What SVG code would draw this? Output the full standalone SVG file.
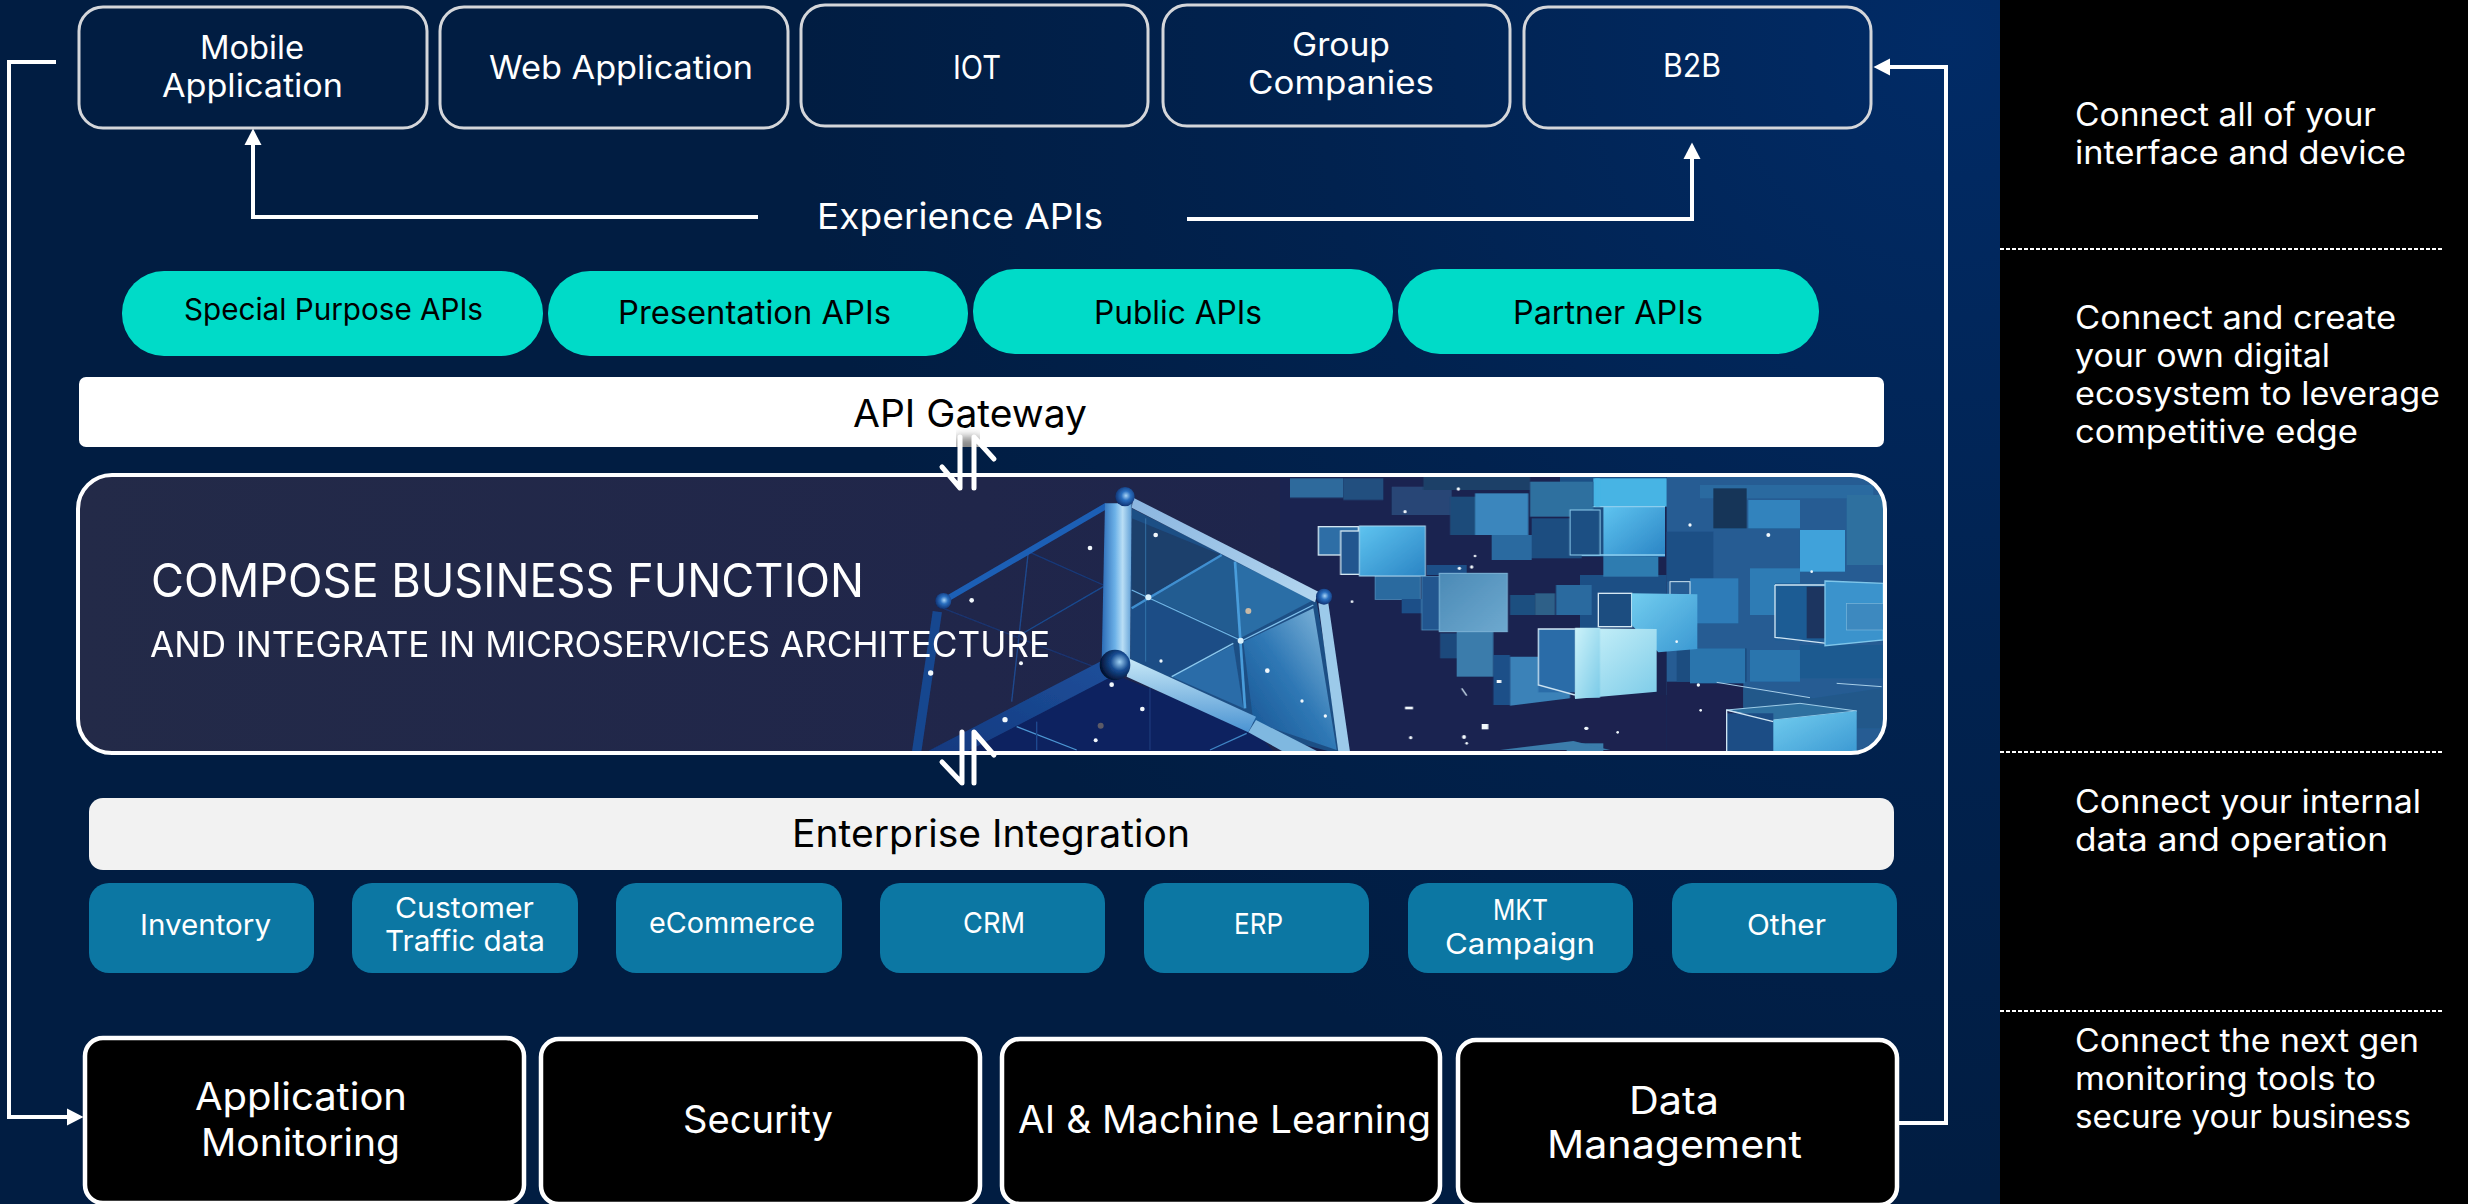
<svg xmlns="http://www.w3.org/2000/svg" width="2468" height="1204" viewBox="0 0 2468 1204">
<style>
text{font-family:"Inter","Liberation Sans",sans-serif;font-weight:400;transform:translateY(1px)}
.w{fill:#fff}.k{fill:#000}
.s28{font-size:29px}.s30{font-size:30px}.s32{font-size:32px}.s36{font-size:36px}.s38{font-size:38px}.s47{font-size:47px}
.top{fill:none;stroke:#d4d6da;stroke-width:3}
.pill{fill:#00dbc8}
.src{fill:#0c77a3}
.blk{fill:#000;stroke:#fff;stroke-width:4.5}
.conn{fill:none;stroke:#fff;stroke-width:4}
.dash{fill:none;stroke:#fff;stroke-width:2;stroke-dasharray:4 2}
.thin{fill:none;stroke-width:4}
.out{fill:none;stroke:#cfe6f4;stroke-width:4}
.dot{fill:#f2f8fc}
.ar{fill:none;stroke:#fff;stroke-width:5;stroke-linecap:round;stroke-linejoin:round}
</style>
<defs>
<radialGradient id="bg" gradientUnits="userSpaceOnUse" cx="1950" cy="40" r="1150"><stop offset="0" stop-color="#012b66"/><stop offset=".55" stop-color="#01224f"/><stop offset="1" stop-color="#011d42"/></radialGradient>
<linearGradient id="panel" x1="0" x2="1" y1="0" y2="0"><stop offset="0" stop-color="#232a48"/><stop offset=".5" stop-color="#20264a"/><stop offset="1" stop-color="#1a2350"/></linearGradient>
<linearGradient id="pil" x1="0" x2="1" y1="0" y2="0"><stop offset="0" stop-color="#2a6ab5"/><stop offset=".45" stop-color="#6db2e8"/><stop offset=".7" stop-color="#b9def5"/><stop offset="1" stop-color="#5f9fd6"/></linearGradient>
<linearGradient id="beam" x1="0" x2="1" y1="0" y2="1"><stop offset="0" stop-color="#8ab5e0"/><stop offset="1" stop-color="#b3d6ef"/></linearGradient>
<linearGradient id="beam2" x1="0" x2="0" y1="0" y2="1"><stop offset="0" stop-color="#c7e8f7"/><stop offset="1" stop-color="#4a93d2"/></linearGradient>
<linearGradient id="beamL" x1="1" x2="0" y1="0" y2="1"><stop offset="0" stop-color="#1e4f9a"/><stop offset="1" stop-color="#12397f"/></linearGradient>
<linearGradient id="pane" x1="1" x2="0" y1="0" y2="1"><stop offset="0" stop-color="#8dbfe0"/><stop offset=".5" stop-color="#2f78b5"/><stop offset="1" stop-color="#14508f"/></linearGradient>
<linearGradient id="cb" x1="0" x2="1" y1="0" y2="1"><stop offset="0" stop-color="#5fc4f0"/><stop offset="1" stop-color="#2a84c4"/></linearGradient>
<linearGradient id="cm" x1="0" x2="1" y1="0" y2="1"><stop offset="0" stop-color="#4b8ab6"/><stop offset="1" stop-color="#6ea9cf"/></linearGradient>
<linearGradient id="pale" x1="0" x2="1" y1="0" y2="1"><stop offset="0" stop-color="#cdf3fa"/><stop offset="1" stop-color="#7ccbe8"/></linearGradient>
<linearGradient id="sky" x1="0" x2="1" y1="0" y2="1"><stop offset="0" stop-color="#72cdef"/><stop offset="1" stop-color="#3b98d2"/></linearGradient>
<radialGradient id="nd" cx=".55" cy=".45" r=".6"><stop offset="0" stop-color="#a8d4f5"/><stop offset=".4" stop-color="#2a6fc0"/><stop offset="1" stop-color="#0b2a68"/></radialGradient>
<radialGradient id="nd2" cx=".65" cy=".4" r=".65"><stop offset="0" stop-color="#9fd0f2"/><stop offset=".45" stop-color="#154a90"/><stop offset="1" stop-color="#03102f"/></radialGradient>
<clipPath id="pc"><rect x="78" y="475" width="1807" height="278" rx="34"/></clipPath>
<clipPath id="gw"><rect x="930" y="420" width="80" height="27"/></clipPath>
<filter id="bl" x="-50%" y="-50%" width="200%" height="200%"><feGaussianBlur stdDeviation="5"/></filter>
<filter id="sf" x="-2%" y="-2%" width="104%" height="104%"><feGaussianBlur stdDeviation="1.6"/></filter>
<marker id="ah" markerUnits="userSpaceOnUse" markerWidth="18" markerHeight="18" refX="1" refY="9" orient="auto"><path d="M0 0.5L16.5 9L0 17.5z" fill="#fff"/></marker>
</defs>

<rect width="2468" height="1204" fill="url(#bg)"/>
<rect x="2000" width="468" height="1204" fill="#000"/>

<g id="node-mobile"><rect class="top" x="79" y="7" width="348" height="121" rx="24"/>
<text class="w s32" x="200" y="58" textLength="104" lengthAdjust="spacingAndGlyphs">Mobile</text>
<text class="w s32" x="162" y="96" textLength="181" lengthAdjust="spacingAndGlyphs">Application</text></g>
<g id="node-web"><rect class="top" x="440" y="7" width="348" height="121" rx="24"/>
<text class="w s32" x="489" y="78" textLength="264" lengthAdjust="spacingAndGlyphs">Web Application</text></g>
<g id="node-iot"><rect class="top" x="801" y="5" width="347" height="121" rx="24"/>
<text class="w s32" x="953" y="78" textLength="48" lengthAdjust="spacingAndGlyphs">IOT</text></g>
<g id="node-group"><rect class="top" x="1163" y="5" width="347" height="121" rx="24"/>
<text class="w s32" x="1292" y="55" textLength="98" lengthAdjust="spacingAndGlyphs">Group</text>
<text class="w s32" x="1248" y="93" textLength="186" lengthAdjust="spacingAndGlyphs">Companies</text></g>
<g id="node-b2b"><rect class="top" x="1524" y="7" width="347" height="121" rx="24"/>
<text class="w s32" x="1663" y="76" textLength="58" lengthAdjust="spacingAndGlyphs">B2B</text></g>

<g id="node-experience"><text class="w s36" x="817" y="228" textLength="286" lengthAdjust="spacingAndGlyphs">Experience APIs</text></g>

<g id="node-special"><rect class="pill" x="122" y="271" width="421" height="85" rx="42"/>
<text class="k s30" x="184" y="319" textLength="299" lengthAdjust="spacingAndGlyphs">Special Purpose APIs</text></g>
<g id="node-presentation"><rect class="pill" x="548" y="271" width="420" height="85" rx="42"/>
<text class="k s32" x="618" y="323" textLength="273" lengthAdjust="spacingAndGlyphs">Presentation APIs</text></g>
<g id="node-public"><rect class="pill" x="973" y="269" width="420" height="85" rx="42"/>
<text class="k s32" x="1094" y="323" textLength="168" lengthAdjust="spacingAndGlyphs">Public APIs</text></g>
<g id="node-partner"><rect class="pill" x="1398" y="269" width="421" height="85" rx="42"/>
<text class="k s32" x="1513" y="323" textLength="190" lengthAdjust="spacingAndGlyphs">Partner APIs</text></g>

<g id="node-gateway"><rect x="79" y="377" width="1805" height="70" rx="7" fill="#fff"/>
<text class="k s38" x="853" y="426" textLength="234" lengthAdjust="spacingAndGlyphs">API Gateway</text></g>

<g id="node-compose">
<rect x="78" y="475" width="1807" height="278" rx="34" fill="url(#panel)"/>
<g clip-path="url(#pc)">
<rect x="1280" y="475" width="605" height="278" fill="#1a2350"/>
<g transform="translate(1580 475) scale(.33333)" filter="url(#sf)">
<rect x="260" y="0" width="660" height="840" fill="#255c93"/>
<rect x="-60" y="0" width="320" height="90" fill="#1f4f85"/>
<rect x="260" y="620" width="230" height="220" fill="#1a2350"/>
<rect x="0" y="660" width="260" height="180" fill="#1a2350"/>
<rect x="0" y="300" width="260" height="160" fill="#1f4f85"/>
<rect x="290" y="520" width="210" height="100" fill="#1d4d80"/>
<rect x="360" y="30" width="520" height="40" fill="#2a6aa0"/>
<rect x="400" y="40" width="100" height="120" fill="#163659"/>
<rect x="505" y="75" width="155" height="85" fill="#3283bd"/>
<rect x="260" y="170" width="140" height="150" fill="#1f4f85"/>
<rect x="800" y="60" width="110" height="210" fill="#2f6f9f"/>
<rect x="660" y="165" width="135" height="125" fill="#3fa2da"/>
<rect x="510" y="280" width="150" height="140" fill="#2d7cb5"/>
<rect x="330" y="310" width="145" height="135" fill="#2f7cb8"/>
<rect x="270" y="320" width="60" height="40" class="out" style="stroke-width:3"/>
<rect x="330" y="520" width="165" height="105" fill="#2a74ad"/>
<rect x="510" y="525" width="150" height="95" fill="#2a74ad"/>
<rect x="660" y="510" width="250" height="100" fill="#1e5a90"/>
<polygon points="490,640 700,670 905,640 905,760 830,760 830,705 490,705" fill="#24598a"/>
<path d="M410 622L690 668M770 625L905 635" stroke="#a9cfe8" stroke-width="3" fill="none"/>
<rect x="585" y="325" width="155" height="172" fill="#1f5c94"/>
<rect x="680" y="335" width="60" height="155" fill="#1a3560"/>
<path d="M585 330H740M585 330V487L740 505" class="out"/>
<polygon points="735,318 910,325 910,495 735,512" fill="#3a93cc" stroke="#7fc6ea" stroke-width="4"/>
<rect x="800" y="385" width="110" height="80" fill="#3e89bf" stroke="#7db8dc" stroke-width="2"/>
<rect x="55" y="355" width="100" height="100" fill="#1e4d80" stroke="#d6e8f2" stroke-width="4"/>
<polygon points="155,355 352,358 352,522 235,532 155,450" fill="url(#sky)"/>
<rect x="40" y="10" width="220" height="85" fill="#47b4e4"/>
<rect x="-30" y="95" width="100" height="150" fill="#1d5083"/>
<rect x="70" y="95" width="185" height="150" fill="url(#cb)"/>
<path d="M-30 95H255M-30 240H255" stroke="#8ccdee" stroke-width="4" fill="none"/>
<rect x="70" y="245" width="165" height="60" fill="#2f7cb0"/>
<polygon points="-15,460 230,462 230,650 -15,672" fill="url(#pale)"/>
<polygon points="440,705 660,685 830,708 580,735" fill="#2f6f9f" stroke="#9ecde8" stroke-width="3"/>
<rect x="440" y="715" width="140" height="125" fill="#1e4d85"/>
<path d="M440 840V705L580 740" class="out"/>
<polygon points="580,735 830,708 830,840 580,840" fill="url(#sky)"/>
<rect x="-40" y="805" width="110" height="35" fill="#3a7cab"/>
<circle class="dot" cx="18" cy="760" r="5"/><circle class="dot" cx="113" cy="772" r="4"/><circle class="dot" cx="362" cy="706" r="4"/><circle class="dot" cx="355" cy="630" r="5"/><circle class="dot" cx="565" cy="180" r="6"/><circle class="dot" cx="330" cy="150" r="5"/><circle class="dot" cx="695" cy="290" r="4"/><circle class="dot" cx="290" cy="500" r="4"/>
</g>
<g transform="translate(1280 475) scale(.33333)" filter="url(#sf)">
<rect x="30" y="10" width="160" height="58" fill="#2f6a9c"/><rect x="190" y="10" width="120" height="65" fill="#224f7f"/>
<rect x="335" y="35" width="180" height="85" fill="#2a4f80" opacity=".8"/>
<rect x="430" y="0" width="320" height="45" fill="#1f4168"/>
<rect x="510" y="65" width="80" height="115" fill="#1f4c7a"/>
<rect x="585" y="55" width="160" height="125" fill="#3a86bd"/>
<rect x="635" y="180" width="120" height="75" fill="#2c6aa0"/>
<rect x="750" y="20" width="190" height="105" fill="#2f6f9f"/>
<rect x="755" y="130" width="150" height="120" fill="#1e4d80"/>
<rect x="870" y="105" width="90" height="135" fill="#1d5083" stroke="#8ccdee" stroke-width="3"/>
<rect x="945" y="10" width="15" height="85" fill="#47b4e4"/>
<rect x="285" y="305" width="135" height="68" fill="#2a6a9f" stroke="#5b9bc8" stroke-width="2"/>
<rect x="365" y="372" width="65" height="43" fill="#1f5088"/>
<rect x="440" y="270" width="120" height="30" fill="#1f5088"/>
<rect x="115" y="155" width="120" height="85" fill="#2f6ea6" stroke="#d3e6f1" stroke-width="4"/>
<rect x="182" y="168" width="60" height="130" fill="#22578f" stroke="#d3e6f1" stroke-width="4"/>
<rect x="238" y="153" width="198" height="150" fill="url(#cb)" stroke="#a9d5ee" stroke-width="3"/>
<rect x="425" y="305" width="55" height="160" fill="#22578f" stroke="#5b9bc8" stroke-width="2"/>
<rect x="530" y="470" width="110" height="135" fill="#3a7cab"/>
<rect x="480" y="475" width="50" height="75" fill="#1e4a7c"/>
<rect x="478" y="295" width="204" height="175" fill="url(#cm)" stroke="#7fb8da" stroke-width="3"/>
<rect x="690" y="360" width="75" height="60" fill="#1e4f80"/><rect x="765" y="355" width="60" height="65" fill="#2d6088"/>
<rect x="828" y="330" width="107" height="90" fill="#2a6a9f"/>
<rect x="640" y="540" width="50" height="150" fill="#1e4f88"/>
<polygon points="690,545 870,545 870,670 690,692" fill="#3a82b8"/>
<rect x="775" y="462" width="110" height="190" fill="#2b6ca8"/>
<path d="M885 462H775V630L885 660" class="out"/>
<polygon points="885,458 960,458 960,668 885,668" fill="url(#pale)"/>
<polygon points="660,825 880,798 990,825" fill="#3a7cab"/>
<rect x="650" y="615" width="14" height="9" fill="#f2f8fc"/><rect x="375" y="695" width="24" height="8" fill="#f2f8fc"/><rect x="605" y="747" width="20" height="16" fill="#f2f8fc"/>
<circle class="dot" cx="392" cy="788" r="5"/><circle class="dot" cx="552" cy="786" r="6"/><circle class="dot" cx="560" cy="805" r="4"/><circle class="dot" cx="920" cy="760" r="5"/><circle class="dot" cx="585" cy="243" r="4"/><circle class="dot" cx="575" cy="276" r="5"/><circle class="dot" cx="538" cy="280" r="5"/><circle class="dot" cx="216" cy="380" r="4"/><circle class="dot" cx="535" cy="42" r="5"/><circle class="dot" cx="375" cy="110" r="5"/>
<path d="M545 640L560 662" stroke="#d5e8f3" stroke-width="4"/>
</g>
<g transform="translate(900 475) scale(.33333)" filter="url(#sf)">
<polygon points="645,600 60,840 1130,840 1060,760" fill="#0e2360"/>
<polygon points="695,100 1250,380 1330,840 1060,770 690,580" fill="#1f4f85"/>
<polygon points="695,130 965,240 745,365 695,395" fill="#1c3f6c"/>
<polygon points="965,240 1005,260 1020,490 745,365" fill="#235b91"/>
<polygon points="1005,260 1240,375 1020,490" fill="#2b6ea6"/>
<polygon points="695,400 745,375 1000,495 815,605 695,550" fill="#1c4e86"/>
<polygon points="815,605 1000,510 1030,700" fill="#2a6ca8"/>
<polygon points="1030,500 1240,400 1310,825 1060,740" fill="url(#pane)"/>
<g class="thin">
<path d="M695 345L1020 495" stroke="#6fb6e6"/><path d="M695 400L965 240" stroke="#3f8fd0" stroke-width="7"/><path d="M1005 260L1035 700" stroke="#4a9ddb" stroke-width="8"/><path d="M1240 390L1030 495" stroke="#7fc0ec"/><path d="M815 605L1000 505" stroke="#8bc8ee"/><path d="M737 130V560" stroke="#3f85bd" stroke-width="2"/>
<path d="M385 230L335 680" stroke="#1e4a8f"/><path d="M385 230L610 330" stroke="#17397a"/><path d="M360 480L610 335" stroke="#1a4a90"/><path d="M130 400L360 490L620 590" stroke="#1a3470"/>
<path d="M350 755L530 825" stroke="#4d97d4"/><path d="M930 825L1040 775" stroke="#3f85c5"/><path d="M410 740V825" stroke="#1e4a8f"/><path d="M750 630V825" stroke="#1e4a8f" stroke-width="2"/>
</g>
<path d="M130 378L620 92" stroke="#1d5fb5" stroke-width="18" fill="none"/>
<path d="M112 410L50 830" stroke="#17468f" stroke-width="28" fill="none"/>
<polygon points="615,85 695,85 690,560 605,560" fill="url(#pil)"/>
<polygon points="700,68 1255,350 1245,382 695,98" fill="url(#beam)"/>
<polygon points="1255,385 1285,385 1350,830 1315,830" fill="#9ccaea"/>
<polygon points="690,552 1068,725 1045,772 680,605" fill="url(#beam2)"/>
<polygon points="1068,735 1255,830 1150,830 1045,772" fill="#7fb8e0"/>
<polygon points="600,560 625,610 200,830 80,830" fill="url(#beamL)"/>
<circle cx="675" cy="65" r="29" fill="url(#nd)"/><circle cx="130" cy="378" r="24" fill="url(#nd)"/><circle cx="1272" cy="365" r="24" fill="url(#nd)"/><circle cx="645" cy="570" r="46" fill="url(#nd2)"/><circle cx="745" cy="367" r="9" fill="#d9f0fb"/><circle cx="1022" cy="497" r="9" fill="#d9f0fb"/>
<circle class="dot" cx="767" cy="180" r="7"/><circle class="dot" cx="570" cy="219" r="7"/><circle class="dot" cx="215" cy="376" r="7"/><circle class="dot" cx="92" cy="594" r="8"/><circle class="dot" cx="363" cy="565" r="6"/><circle class="dot" cx="635" cy="629" r="7"/><circle class="dot" cx="727" cy="702" r="7"/><circle class="dot" cx="315" cy="734" r="8"/><circle class="dot" cx="587" cy="796" r="6"/><circle cx="1045" cy="408" r="9" fill="#c9b9a4"/><circle class="dot" cx="1102" cy="587" r="7"/><circle class="dot" cx="1206" cy="678" r="5"/><circle class="dot" cx="1276" cy="723" r="5"/><circle class="dot" cx="783" cy="558" r="5"/><circle cx="602" cy="752" r="9" fill="#5c5a66"/>
</g>
</g>
<rect x="78" y="475" width="1807" height="278" rx="34" fill="none" stroke="#fff" stroke-width="4"/>
<text class="w s47" x="151" y="596" textLength="713" lengthAdjust="spacingAndGlyphs">COMPOSE BUSINESS FUNCTION</text>
<text class="w s36" x="150" y="656" textLength="900" lengthAdjust="spacingAndGlyphs">AND INTEGRATE IN MICROSERVICES ARCHITECTURE</text>
</g>

<g id="node-enterprise"><rect x="89" y="798" width="1805" height="72" rx="14" fill="#f2f2f2"/>
<text class="k s38" x="792" y="846" textLength="398" lengthAdjust="spacingAndGlyphs">Enterprise Integration</text></g>

<g id="node-inventory"><rect class="src" x="89" y="883" width="225" height="90" rx="20"/><text class="w s28" x="140" y="934" textLength="131" lengthAdjust="spacingAndGlyphs">Inventory</text></g>
<g id="node-customer"><rect class="src" x="352" y="883" width="226" height="90" rx="20"/><text class="w s28" x="395" y="917" textLength="139" lengthAdjust="spacingAndGlyphs">Customer</text><text class="w s28" x="385" y="950" textLength="160" lengthAdjust="spacingAndGlyphs">Traffic data</text></g>
<g id="node-ecommerce"><rect class="src" x="616" y="883" width="226" height="90" rx="20"/><text class="w s28" x="649" y="932" textLength="166" lengthAdjust="spacingAndGlyphs">eCommerce</text></g>
<g id="node-crm"><rect class="src" x="880" y="883" width="225" height="90" rx="20"/><text class="w s28" x="963" y="932" textLength="62" lengthAdjust="spacingAndGlyphs">CRM</text></g>
<g id="node-erp"><rect class="src" x="1144" y="883" width="225" height="90" rx="20"/><text class="w s28" x="1234" y="933" textLength="49" lengthAdjust="spacingAndGlyphs">ERP</text></g>
<g id="node-mkt"><rect class="src" x="1408" y="883" width="225" height="90" rx="20"/><text class="w s28" x="1493" y="919" textLength="55" lengthAdjust="spacingAndGlyphs">MKT</text><text class="w s28" x="1445" y="953" textLength="150" lengthAdjust="spacingAndGlyphs">Campaign</text></g>
<g id="node-other"><rect class="src" x="1672" y="883" width="225" height="90" rx="20"/><text class="w s28" x="1747" y="934" textLength="79" lengthAdjust="spacingAndGlyphs">Other</text></g>

<g id="node-monitoring"><rect class="blk" x="85" y="1038" width="439" height="165" rx="18"/><text class="w s38" x="195" y="1109" textLength="212" lengthAdjust="spacingAndGlyphs">Application</text><text class="w s38" x="201" y="1155" textLength="199" lengthAdjust="spacingAndGlyphs">Monitoring</text></g>
<g id="node-security"><rect class="blk" x="541" y="1039" width="439" height="165" rx="18"/><text class="w s38" x="683" y="1132" textLength="150" lengthAdjust="spacingAndGlyphs">Security</text></g>
<g id="node-ai"><rect class="blk" x="1002" y="1039" width="438" height="165" rx="18"/><text class="w s38" x="1018" y="1132" textLength="413" lengthAdjust="spacingAndGlyphs">AI &amp; Machine Learning</text></g>
<g id="node-data"><rect class="blk" x="1458" y="1040" width="439" height="165" rx="18"/><text class="w s38" x="1629" y="1113" textLength="90" lengthAdjust="spacingAndGlyphs">Data</text><text class="w s38" x="1547" y="1157" textLength="255" lengthAdjust="spacingAndGlyphs">Management</text></g>

<g id="notes">
<text class="w s32" x="2075" y="125" textLength="301" lengthAdjust="spacingAndGlyphs">Connect all of your</text>
<text class="w s32" x="2075" y="163" textLength="331" lengthAdjust="spacingAndGlyphs">interface and device</text>
<text class="w s32" x="2075" y="328" textLength="321" lengthAdjust="spacingAndGlyphs">Connect and create</text>
<text class="w s32" x="2075" y="366" textLength="255" lengthAdjust="spacingAndGlyphs">your own digital</text>
<text class="w s32" x="2075" y="404" textLength="365" lengthAdjust="spacingAndGlyphs">ecosystem to leverage</text>
<text class="w s32" x="2075" y="442" textLength="283" lengthAdjust="spacingAndGlyphs">competitive edge</text>
<text class="w s32" x="2075" y="812" textLength="346" lengthAdjust="spacingAndGlyphs">Connect your internal</text>
<text class="w s32" x="2075" y="850" textLength="313" lengthAdjust="spacingAndGlyphs">data and operation</text>
<text class="w s32" x="2075" y="1051" textLength="344" lengthAdjust="spacingAndGlyphs">Connect the next gen</text>
<text class="w s32" x="2075" y="1089" textLength="301" lengthAdjust="spacingAndGlyphs">monitoring tools to</text>
<text class="w s32" x="2075" y="1127" textLength="336" lengthAdjust="spacingAndGlyphs">secure your business</text>
<path class="dash" d="M2000 249H2442M2000 752H2442M2000 1011H2442"/>
</g>

<g id="connectors">
<path class="conn" d="M56 62H9V1117H68" marker-end="url(#ah)"/>
<path class="conn" d="M758 217H253V144" marker-end="url(#ah)"/>
<path class="conn" d="M1187 219H1692V158" marker-end="url(#ah)"/>
<path class="conn" d="M1897 1123H1946V67H1889" marker-end="url(#ah)"/>
<g clip-path="url(#gw)"><path d="M962 437V488M974 488V437" stroke="#555" stroke-width="14" fill="none" filter="url(#bl)" opacity=".7"/></g>
<path class="ar" d="M960 437V488L942 467M974 488V437L994 459"/>
<path class="ar" d="M962 732V783L942 762M974 783V732L994 755"/>
</g>
</svg>
